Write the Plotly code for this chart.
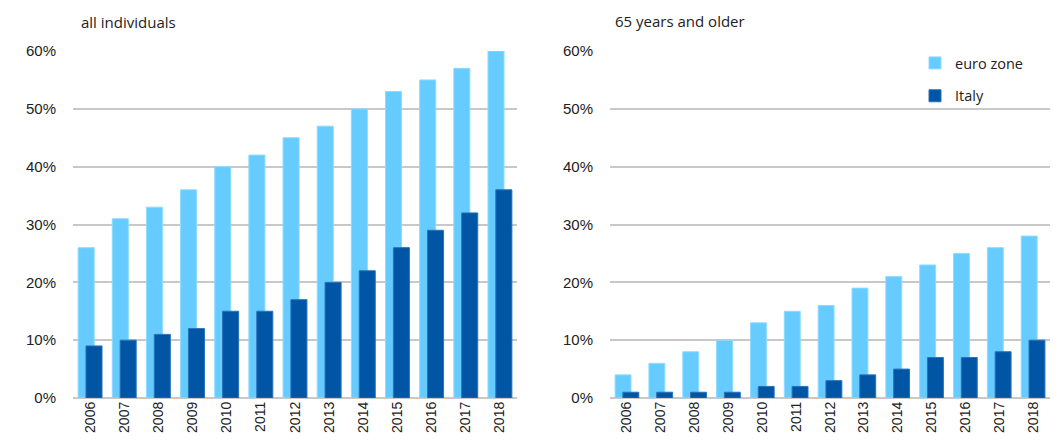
import plotly.graph_objects as go

years = ["2006", "2007", "2008", "2009", "2010", "2011", "2012", "2013", "2014", "2015", "2016", "2017", "2018"]
all_euro = [26, 31, 33, 36, 40, 42, 45, 47, 50, 53, 55, 57, 60]
all_italy = [9, 10, 11, 12, 15, 15, 17, 20, 22, 26, 29, 32, 36]
old_euro = [4, 6, 8, 10, 13, 15, 16, 19, 21, 23, 25, 26, 28]
old_italy = [1, 1, 1, 1, 2, 2, 3, 4, 5, 7, 7, 8, 10]
ticks = [0, 10, 20, 30, 40, 50, 60]
tick_text = ["0%", "10%", "20%", "30%", "40%", "50%", "60%"]

LIGHT = "#66CCFF"
DARK = "#0055A4"

W, H, OFF = 1058, 441, 8  # page body margin offset


def px(x):
    return (x - OFF) / W


def py(y):
    return 1 - (y - OFF) / H


fig = go.Figure()


def add_pair(euro, italy, xa, ya, show):
    fig.add_trace(go.Bar(x=years, y=euro, name="euro zone", marker=dict(color=LIGHT, line=dict(color="#8FDBFF", width=1)),
                         width=0.47, offset=-0.35, xaxis=xa, yaxis=ya, showlegend=show, legendgroup="a"))
    fig.add_trace(go.Bar(x=years, y=italy, name="Italy", marker=dict(color=DARK, line=dict(color="#2A72B8", width=1)),
                         width=0.47, offset=-0.12, xaxis=xa, yaxis=ya, showlegend=show, legendgroup="b"))


add_pair(all_euro, all_italy, "x", "y", False)
add_pair(old_euro, old_italy, "x2", "y2", True)

tickfont = dict(family="Liberation Sans, Arial, sans-serif", size=15, color="#222")
xfont = dict(family="Liberation Sans, Arial, sans-serif", size=14, color="#222")

yax = dict(range=[0, 60], tickvals=ticks, ticktext=tick_text, showgrid=True, gridcolor="#C8C8C8", gridwidth=1.5,
           zeroline=True, zerolinecolor="#C8C8C8", zerolinewidth=1.5, tickfont=tickfont, ticks="", showline=False,
           ticklabelstandoff=16, automargin=False)
xax = dict(tickangle=-90, tickfont=xfont, showgrid=False, ticks="", showline=False, type="category", automargin=False)

fig.update_layout(
    width=W, height=H,
    margin=dict(l=0, r=0, t=0, b=0, autoexpand=False),
    plot_bgcolor="white", paper_bgcolor="white",
    barmode="overlay",
    xaxis=dict(domain=[px(73), px(517)], anchor="y", **xax),
    yaxis=dict(domain=[py(398), py(51)], anchor="x", **yax),
    xaxis2=dict(domain=[px(610), px(1050)], anchor="y2", **xax),
    yaxis2=dict(domain=[py(398), py(51)], anchor="x2", **yax),
    legend=dict(x=px(915), y=py(47), xanchor="left", yanchor="top", bgcolor="rgba(0,0,0,0)",
                font=dict(family="Open Sans, DejaVu Sans, sans-serif", size=14.5, color="#222"),
                tracegroupgap=11, itemwidth=30),
    annotations=[
        dict(text="all individuals", x=px(79), y=py(22), xref="paper", yref="paper", xanchor="left", yanchor="middle",
             showarrow=False, font=dict(family="Open Sans, DejaVu Sans, sans-serif", size=15, color="#222")),
        dict(text="65 years and older", x=px(613), y=py(21), xref="paper", yref="paper", xanchor="left", yanchor="middle",
             showarrow=False, font=dict(family="Open Sans, DejaVu Sans, sans-serif", size=15, color="#222")),
    ],
)

fig.write_html("out.html")
